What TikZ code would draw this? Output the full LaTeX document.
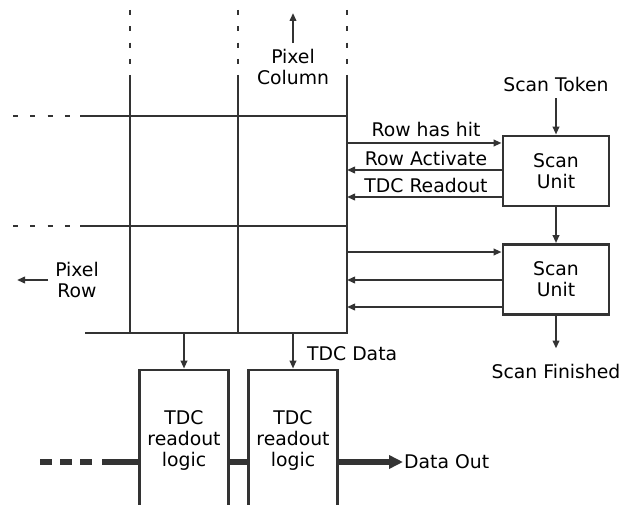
\documentclass[tikz,border=0pt]{standalone}
\usepackage{fontspec}
\setmainfont{DejaVu Sans}
\usetikzlibrary{arrows.meta}
\definecolor{ink}{gray}{0.2}
\tikzset{
  % plain grid and bus lines
  wire/.style={draw=ink,line width=2.8pt},
  % signal line with a small tip at its end
  sig/.style={draw=ink,line width=2.8pt,-{Triangle[length=8pt,width=6.5pt]}},
  % broken lines at the edge of the matrix
  dotrow/.style={draw=ink,line width=2.8pt,dash pattern=on 5pt off 12.3pt},
  dotcol/.style={draw=ink,line width=2.8pt,dash pattern=on 5pt off 11.3pt},
  % thick data out bus
  bus/.style={draw=ink,line width=5.5pt},
  lbl/.style={font=\fontsize{18.8}{21}\selectfont,align=center,inner sep=1pt},
  unitbox/.style={lbl,draw=ink,line width=2.8pt,minimum width=106pt,minimum height=70pt},
  logicbox/.style={lbl,draw=ink,line width=2.8pt,minimum width=89pt,minimum height=140pt},
}
\begin{document}
\begin{tikzpicture}[x=1pt,y=-1pt]
    \useasboundingbox (0,0) rectangle (623,505);
    \clip (0,0) rectangle (623,505);
    %\draw[step=10, gray,very thin] (0,0) grid (623,505);

    % pixel matrix
    \begin{scope}
    \draw[dotcol] (130,10) -- (130,65);
    \draw[dotcol] (238,10) -- (238,65);
    \draw[dotcol] (347,10) -- (347,65);
    \draw[wire] (130,75) -- (130,333);
    \draw[wire] (238,75) -- (238,333);
    \draw[wire] (347,75) -- (347,333);

    \draw[dotrow] (13,116) -- (72,116);
    \draw[dotrow] (13,226) -- (72,226);
    \draw[wire] (80,116) -- (348.4,116);
    \draw[wire] (80,226) -- (348.4,226);
    \draw[wire] (85,333) -- (348.4,333);
    \end{scope}

    \node[lbl] (pcol) at (293,67) {Pixel\\Column};
    \coordinate (colup) at (293,13);
    \draw[sig,shorten <=5pt] (pcol.north) -- (colup);

    \node[lbl] (prow) at (77,280) {Pixel\\Row};
    \coordinate (rowleft) at (17,280);
    \draw[sig,shorten <=6pt] (prow.west) -- (rowleft);

    % scan chain
    \node[unitbox] (su1) at (556,171) {Scan\\Unit};
    \node[unitbox] (su2) at (556,279.5) {Scan\\Unit};
    \node[lbl,anchor=base] (tok) at (556,92) {Scan Token};
    \node[lbl,anchor=base] (fin) at (556,378) {Scan Finished};
    \draw[sig,shorten <=5pt] (tok.south) -- (su1.north);
    \draw[sig] (su1.south) -- (su2.north);
    \draw[sig,shorten >=14pt] (su2.south) -- (fin.north);

    \coordinate (hit1) at (347,143);
    \coordinate (act1) at (347,170);
    \coordinate (rd1) at (347,197);
    \coordinate (hit2) at (347,252);
    \coordinate (act2) at (347,280);
    \coordinate (rd2) at (347,307);
    \draw[sig] (hit1) -- (hit1 -| su1.west);
    \draw[sig] (act1 -| su1.west) -- (act1);
    \draw[sig] (rd1 -| su1.west) -- (rd1);
    \draw[sig] (hit2) -- (hit2 -| su2.west);
    \draw[sig] (act2 -| su2.west) -- (act2);
    \draw[sig] (rd2 -| su2.west) -- (rd2);
    \node[lbl,anchor=base] (lhit) at (426,137) {Row has hit};
    \node[lbl,anchor=base] (lact) at (426,166) {Row Activate};
    \node[lbl,anchor=base] (lrd) at (426,192) {TDC Readout};

    % readout logic
    \node[logicbox] (rl1) at (184,440) {TDC\\readout\\logic};
    \node[logicbox] (rl2) at (293,440) {TDC\\readout\\logic};
    \coordinate (tap1) at (184,333);
    \coordinate (tap2) at (293,333);
    \draw[sig] (tap1) -- (rl1.north);
    \draw[sig] (tap2) -- (rl2.north);
    \node[lbl,anchor=base west] (tdata) at (306,360) {TDC Data};

    \node[lbl,anchor=base west] (dout) at (403,468) {Data Out};
    \coordinate (din) at (102,462);
    \draw[bus,dash pattern=on 12pt off 8pt] (40,462) -- (92,462);
    \draw[bus] (din) -- (din -| rl1.west);
    \draw[bus] (din -| rl1.east) -- (din -| rl2.west);
    \draw[bus,-{Triangle[length=14pt,width=13pt]}] (din -| rl2.east) -- (din -| dout.west);
\end{tikzpicture}
\end{document}
